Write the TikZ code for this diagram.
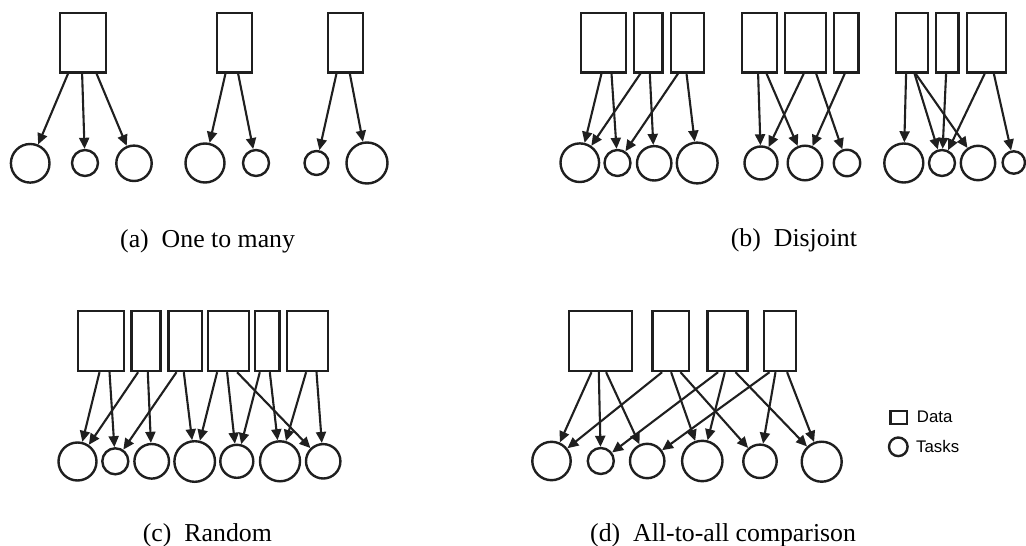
\documentclass[tikz,border=0pt]{standalone}
\usepackage{fontspec}
\setmainfont{Liberation Serif}
\newfontfamily\legfont{Liberation Sans}
\usetikzlibrary{arrows.meta,calc}
\tikzset{
  databox/.style={draw=black!88, line width=2.4pt, inner sep=0pt, fill=white},
  task/.style={circle, draw=black!88, line width=2.4pt, inner sep=0pt},
  conn/.style={draw=black!88, line width=2.1pt, -{Triangle[length=11pt,width=10pt]}},
  capt/.style={anchor=base west, inner sep=0pt, font=\fontsize{25.8}{30}\selectfont},
  legtext/.style={anchor=west, inner sep=0pt, font=\legfont\fontsize{16.8}{20}\selectfont}
}
% name, x1, x2, y1, y2
\newcommand\dbox[5]{\node[databox, minimum width={(#3-#2)*1pt}, minimum height={(#5-#4)*1pt}] (#1) at ({(#2+#3)/2},{(#4+#5)/2}) {};}
% name, x, y, r
\newcommand\tk[4]{\node[task, minimum size={2*#4*1pt}] (#1) at (#2,#3) {};}
% box, offset from left, circle
\newcommand\arr[3]{\draw[conn] ($(#1.south west)+(#2,0)$) -- (#3);}
\begin{document}
\begin{tikzpicture}[x=1pt,y=-1pt]
\useasboundingbox (0,0) rectangle (1026,546);
% ---------- (a) One to many
\dbox{ba1}{60}{106}{12.7}{72.3}
\dbox{ba2}{217}{251.7}{12.7}{72.3}
\dbox{ba3}{328}{362.7}{12.7}{72.3}
\tk{ca1}{30.2}{163.3}{19.3}
\tk{ca2}{85}{163}{13}
\tk{ca3}{134}{163.3}{17.7}
\tk{ca4}{205}{163}{19.5}
\tk{ca5}{256}{163}{13}
\tk{ca6}{316.5}{163}{12}
\tk{ca7}{367}{163}{20.5}
\arr{ba1}{9.3}{ca1}
\arr{ba1}{23.3}{ca2}
\arr{ba1}{37.7}{ca3}
\arr{ba2}{9.7}{ca4}
\arr{ba2}{22.3}{ca5}
\arr{ba3}{9.7}{ca6}
\arr{ba3}{23}{ca7}
\node[capt] (capa) at (120,247.3) {(a)\enspace One to many};
% ---------- (b) Disjoint
\dbox{bb1}{580.7}{625.7}{12.7}{72.3}
\dbox{bb2}{633.7}{662.3}{12.7}{72.3}
\dbox{bb3}{670.7}{703.7}{12.7}{72.3}
\dbox{bb4}{741.7}{776.7}{12.7}{72.3}
\dbox{bb5}{784.7}{826}{12.7}{72.3}
\dbox{bb6}{834}{858.3}{12.7}{72.3}
\dbox{bb7}{895.7}{927.7}{12.7}{72.3}
\dbox{bb8}{936}{958.3}{12.7}{72.3}
\dbox{bb9}{966.7}{1006}{12.7}{72.3}
\tk{cb1}{579.8}{162.7}{19.3}
\tk{cb2}{617.5}{163}{13}
\tk{cb3}{654.2}{163.3}{17.2}
\tk{cb4}{697.2}{163}{20.4}
\tk{cb5}{761}{163}{16.5}
\tk{cb6}{805}{163}{17.3}
\tk{cb7}{847}{163}{13.2}
\tk{cb8}{903.8}{163}{19.5}
\tk{cb9}{942}{163}{13}
\tk{cb10}{978}{163}{17.2}
\tk{cb11}{1013.8}{162.5}{11.2}
\arr{bb1}{22}{cb1}
\arr{bb1}{32}{cb2}
\arr{bb2}{8}{cb1}
\arr{bb2}{17.3}{cb3}
\arr{bb3}{8.6}{cb2}
\arr{bb3}{17}{cb4}
\arr{bb4}{17.6}{cb5}
\arr{bb4}{26}{cb6}
\arr{bb5}{20.3}{cb5}
\arr{bb5}{32.6}{cb7}
\arr{bb6}{12}{cb6}
\arr{bb7}{11.6}{cb8}
\arr{bb7}{20}{cb9}
\arr{bb7}{21}{cb10}
\arr{bb8}{11.3}{cb9}
\arr{bb9}{19.3}{cb9}
\arr{bb9}{28.3}{cb11}
\node[capt] (capb) at (730.7,246.7) {(b)\enspace Disjoint};
% ---------- (c) Random
\dbox{bc1}{78}{123.7}{310.7}{371}
\dbox{bc2}{131.3}{160.3}{310.7}{371}
\dbox{bc3}{168.3}{201.7}{310.7}{371}
\dbox{bc4}{207.7}{248.7}{310.7}{371}
\dbox{bc5}{254.7}{279.3}{310.7}{371}
\dbox{bc6}{286.7}{327.7}{310.7}{371}
\tk{cc1}{77.5}{461.5}{19}
\tk{cc2}{115.3}{461.3}{13}
\tk{cc3}{151.7}{461.3}{17.3}
\tk{cc4}{194.7}{461.5}{20.3}
\tk{cc5}{236.8}{461.3}{16.5}
\tk{cc6}{280}{461.3}{20}
\tk{cc7}{323.2}{461.3}{17.2}
\arr{bc1}{22.7}{cc1}
\arr{bc1}{32.7}{cc2}
\arr{bc2}{8}{cc1}
\arr{bc2}{17.7}{cc3}
\arr{bc3}{9.4}{cc2}
\arr{bc3}{16.7}{cc4}
\arr{bc4}{10.6}{cc4}
\arr{bc4}{20.6}{cc5}
\arr{bc4}{30.6}{cc7}
\arr{bc5}{6.3}{cc5}
\arr{bc5}{16.3}{cc6}
\arr{bc6}{20.6}{cc6}
\arr{bc6}{31}{cc7}
\node[capt] (capc) at (142.7,541.7) {(c)\enspace Random};
% ---------- (d) All-to-all comparison
\dbox{bd1}{569}{631.7}{310.7}{371}
\dbox{bd2}{652.3}{689}{310.7}{371}
\dbox{bd3}{707.3}{747.3}{310.7}{371}
\dbox{bd4}{764}{795.7}{310.7}{371}
\tk{cd1}{551.5}{461}{19.2}
\tk{cd2}{600.8}{461}{13}
\tk{cd3}{647.2}{461}{17.2}
\tk{cd4}{702.3}{461}{20.2}
\tk{cd5}{760}{461.3}{16.7}
\tk{cd6}{821.7}{461.7}{20}
\arr{bd1}{23.7}{cd1}
\arr{bd1}{31}{cd2}
\arr{bd1}{38.3}{cd3}
\arr{bd2}{11}{cd1}
\arr{bd2}{20}{cd4}
\arr{bd2}{29.4}{cd5}
\arr{bd3}{12}{cd2}
\arr{bd3}{18.7}{cd4}
\arr{bd3}{29.4}{cd6}
\arr{bd4}{6.7}{cd3}
\arr{bd4}{12.7}{cd5}
\arr{bd4}{24.3}{cd6}
\node[capt] (capd) at (590,541.7) {(d)\enspace All-to-all comparison};
% ---------- legend
\dbox{legbox}{890.3}{906.7}{410.7}{424}
\tk{legcirc}{898.3}{446.8}{9.3}
\node[legtext] (legdata) at (916.7,416.7) {Data};
\node[legtext] (legtasks) at (916,446.7) {Tasks};
\end{tikzpicture}
\end{document}
